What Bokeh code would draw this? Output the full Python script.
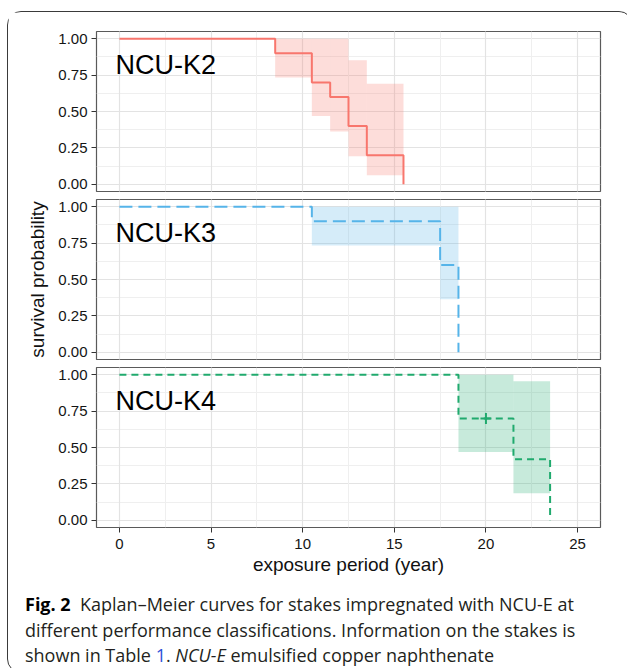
from bokeh.plotting import figure
from bokeh.models import Range1d, FixedTicker, Div, Label, Grid, NumeralTickFormatter
from bokeh.layouts import column
from bokeh.embed import file_html
from bokeh.resources import INLINE

# ---------------- data ----------------
k2_time = [0, 8.5, 10.5, 11.5, 12.5, 13.5, 15.5]
k2_surv = [1.0, 0.9, 0.7, 0.6, 0.4, 0.2, 0.0]
k2_ci_start = [8.5, 10.5, 11.5, 12.5, 13.5]
k2_ci_end = [10.5, 11.5, 12.5, 13.5, 15.5]
k2_lower = [0.734, 0.469, 0.363, 0.192, 0.062]
k2_upper = [1.0, 1.0, 1.0, 0.852, 0.69]

k3_time = [0, 10.5, 17.5, 18.5]
k3_surv = [1.0, 0.9, 0.6, 0.0]
k3_ci_start = [10.5, 17.5]
k3_ci_end = [17.5, 18.5]
k3_lower = [0.734, 0.365]
k3_upper = [1.0, 1.0]

k4_time = [0, 18.5, 21.5, 23.5]
k4_surv = [1.0, 0.7, 0.42, 0.0]
k4_ci_start = [18.5, 21.5]
k4_ci_end = [21.5, 23.5]
k4_lower = [0.469, 0.185]
k4_upper = [1.0, 0.956]
k4_censor_time = [20.0]
k4_censor_surv = [0.7]

group_names = ["NCU-K2", "NCU-K3", "NCU-K4"]
x_ticks = [0, 5, 10, 15, 20, 25]
x_minor = [2.5, 7.5, 12.5, 17.5, 22.5]
y_ticks = [0, 0.25, 0.5, 0.75, 1.0]
y_minor = [0.125, 0.375, 0.625, 0.875]

FONT = "Liberation Sans"


def make_panel(name, color, dash, time, surv, cs, ce, lo, up,
               top_b, bottom_b, show_x=False, ylabel=None,
               censor_x=None, censor_y=None):
    p = figure(width=614, height=top_b + 160 + bottom_b,
               x_range=Range1d(-1.25, 26.25), y_range=Range1d(-0.05, 1.05),
               output_backend="svg", toolbar_location=None,
               x_axis_location="below" if show_x else None,
               min_border_left=88, min_border_right=22,
               min_border_top=top_b, min_border_bottom=bottom_b)
    p.background_fill_color = "white"
    p.border_fill_color = "white"
    p.outline_line_color = "#5a5a5a"
    p.outline_line_width = 1.2

    xg = Grid(dimension=0, ticker=FixedTicker(ticks=x_ticks, minor_ticks=x_minor))
    p.add_layout(xg)
    p.ygrid[0].ticker = FixedTicker(ticks=y_ticks, minor_ticks=y_minor)
    for g in [xg, p.ygrid[0]]:
        g.grid_line_color = "#e3e3e3"
        g.grid_line_width = 1.2
        g.minor_grid_line_color = "#efefef"
        g.minor_grid_line_width = 1.0

    p.yaxis.ticker = FixedTicker(ticks=y_ticks)
    p.yaxis.formatter = NumeralTickFormatter(format="0.00")
    axes = list(p.yaxis) + (list(p.xaxis) if show_x else [])
    for ax in axes:
        ax.axis_line_color = None
        ax.major_tick_line_color = "#333333"
        ax.major_tick_out = 5
        ax.major_tick_in = 0
        ax.minor_tick_line_color = None
        ax.major_label_text_font = FONT
        ax.major_label_text_font_size = "15px"
        ax.major_label_text_color = "#141414"
        ax.major_label_standoff = 4
        ax.axis_label_text_font = FONT
        ax.axis_label_text_font_size = "19px"
        ax.axis_label_text_font_style = "normal"
        ax.axis_label_text_color = "#111111"
    if show_x:
        p.xaxis.ticker = FixedTicker(ticks=x_ticks)
        p.xaxis.axis_label = "exposure period (year)"
        p.xaxis.axis_label_standoff = 2
        p.xaxis.major_label_standoff = 6
    if ylabel:
        p.yaxis.axis_label = ylabel
        p.yaxis.axis_label_standoff = 7

    p.quad(left=cs, right=ce, bottom=lo, top=up,
           fill_color=color, fill_alpha=0.25, line_color=None)
    kw = {}
    if dash:
        kw["line_dash"] = dash
    p.step(time, surv, mode="after", line_color=color, line_width=2, **kw)
    if censor_x:
        p.scatter(censor_x, censor_y, marker="cross", size=11,
                  line_color=color, line_width=2)

    p.add_layout(Label(x=0, y=0.82, x_offset=-4, text=name,
                       text_font=FONT, text_font_size="27px",
                       text_baseline="middle", text_align="left",
                       text_color="#000000"))
    return p


p1 = make_panel(group_names[0], "#F8766D", None, k2_time, k2_surv,
                k2_ci_start, k2_ci_end, k2_lower, k2_upper, 19, 4)
p2 = make_panel(group_names[1], "#56B4E9", "13 6", k3_time, k3_surv,
                k3_ci_start, k3_ci_end, k3_lower, k3_upper, 4, 4,
                ylabel="survival probability")
p3 = make_panel(group_names[2], "#20AA6E", "7 5", k4_time, k4_surv,
                k4_ci_start, k4_ci_end, k4_lower, k4_upper, 4, 50,
                show_x=True, censor_x=k4_censor_time, censor_y=k4_censor_surv)

caption_html = (
    '<div style="font-family:\'Open Sans\'; font-size:18px; line-height:25.5px; '
    'color:#231f20; padding-left:12px; padding-top:10px; white-space:nowrap;">'
    '<b style="color:#000">Fig. 2</b>&nbsp; Kaplan–Meier curves for stakes impregnated with NCU-E at<br>'
    'different performance classifications. Information on the stakes is<br>'
    'shown in Table <span style="color:#2b50d8">1</span>. <i>NCU-E</i> emulsified copper naphthenate'
    '</div>'
)
caption = Div(text=caption_html, width=614, height=85)

layout = column(p1, p2, p3, caption, margin=(11, 0, 0, 7),
                styles={"border": "1.5px solid #3a3a3a", "border-radius": "14px",
                        "background": "white"})

open("out.html", "w").write(file_html(layout, INLINE))
